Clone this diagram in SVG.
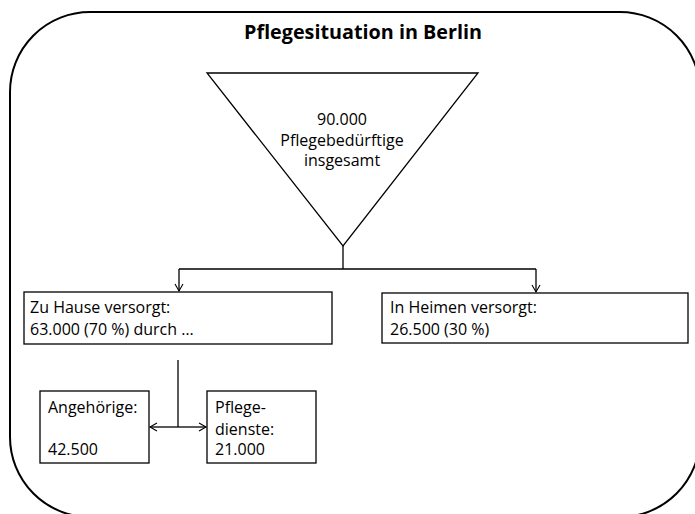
<svg xmlns="http://www.w3.org/2000/svg" width="695" height="514" viewBox="0 0 695 514">
<style>
.ln{fill:none;stroke:#000;stroke-width:1.3}
.bx{fill:#fff;stroke:#000;stroke-width:1.3}
.t{font-family:"Open Sans","Liberation Sans",Arial,sans-serif;font-size:16px;fill:#000}
.c{text-anchor:middle}
.ti{font-family:"Open Sans","Liberation Sans",Arial,sans-serif;font-size:20px;font-weight:bold;fill:#000}
</style>
<defs>
<marker id="ah" markerWidth="10" markerHeight="10" refX="8" refY="5" orient="auto" markerUnits="userSpaceOnUse">
<path d="M1,1 L8,5 L1,9" fill="none" stroke="#000" stroke-width="1.1"/>
</marker>
</defs>
<rect id="frame" x="10" y="12" width="690" height="505" rx="80" ry="80" fill="#fff" stroke="#000" stroke-width="2"/>
<text id="title" class="ti" x="244" y="39" textLength="238" lengthAdjust="spacingAndGlyphs">Pflegesituation in Berlin</text>
<g id="total">
<polygon class="bx" points="207,73 478,73 343,246"/>
<text class="t c" x="342" y="125">90.000</text>
<text class="t c" x="342" y="146">Pflegebedürftige</text>
<text class="t c" x="342" y="166">insgesamt</text>
</g>
<g id="zuhause">
<rect class="bx" x="24" y="292" width="308" height="52"/>
<text class="t" x="30" y="313">Zu Hause versorgt:</text>
<text class="t" x="30" y="335">63.000 (70 %) durch …</text>
</g>
<g id="heime">
<rect class="bx" x="382" y="293" width="306" height="50"/>
<text class="t" x="390" y="313">In Heimen versorgt:</text>
<text class="t" x="390" y="335">26.500 (30 %)</text>
</g>
<g id="angehoerige">
<rect class="bx" x="40" y="391" width="109" height="72"/>
<text class="t" x="48" y="413">Angehörige:</text>
<text class="t" x="48" y="455">42.500</text>
</g>
<g id="pflegedienste">
<rect class="bx" x="207" y="391" width="109" height="72"/>
<text class="t" x="215" y="413">Pflege-</text>
<text class="t" x="215" y="435">dienste:</text>
<text class="t" x="215" y="455">21.000</text>
</g>
<g id="connectors">
<path class="ln" d="M343,246 V269 M179,269 H536"/>
<path class="ln" d="M179,269 V291" marker-end="url(#ah)"/>
<path class="ln" d="M536,269 V292" marker-end="url(#ah)"/>
<path class="ln" d="M178,360 V427"/>
<path class="ln" d="M178,427 H150" marker-end="url(#ah)"/>
<path class="ln" d="M178,427 H206" marker-end="url(#ah)"/>
</g>
</svg>
